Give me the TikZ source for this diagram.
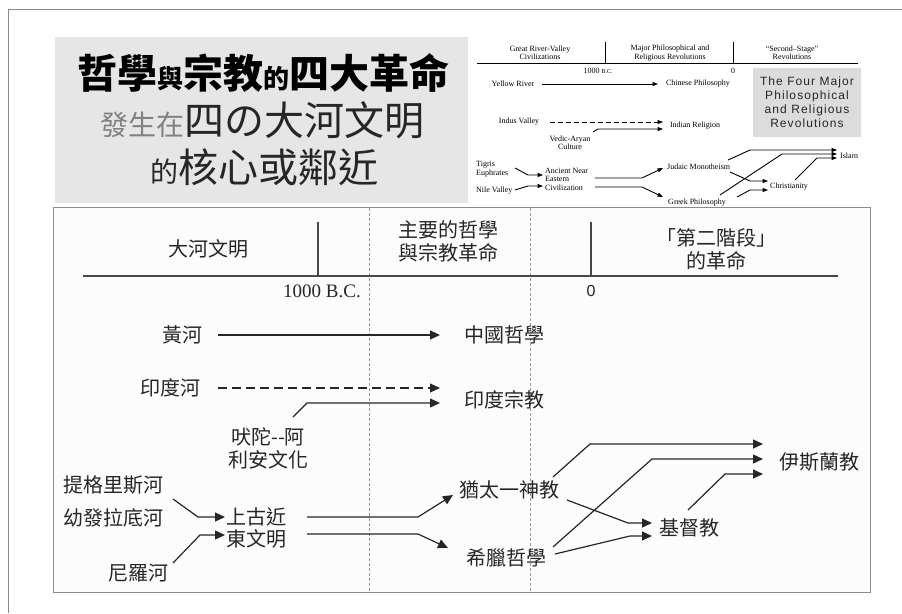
\documentclass[tikz,border=0pt]{standalone}
\usepackage{fontspec}
\setmainfont{Liberation Serif}
\newfontfamily\cjk{Noto Sans CJK TC}
\newfontfamily\arialf{Liberation Sans}
\newfontfamily\arialsp{Liberation Sans}[LetterSpace=9]
\usetikzlibrary{arrows.meta}
\definecolor{ink}{HTML}{262626}
\definecolor{frame}{HTML}{8A8A8A}
\definecolor{titlebg}{HTML}{E6E6E6}
\definecolor{boxbg}{HTML}{FCFCFC}
\definecolor{graybox}{HTML}{DCDCDC}
\begin{document}
\begin{tikzpicture}[x=1pt,y=-1pt,
  cn/.style={font=\cjk\fontsize{20}{23}\selectfont, text=ink, inner sep=0pt, align=center},
  en/.style={font=\fontsize{8}{8.5}\selectfont, inner sep=0pt, align=center},
  bigarr/.style={-{Triangle[length=10pt,width=9pt]}, line width=1.2pt, draw=ink},
  smlarr/.style={-{Triangle[length=5.5pt,width=4pt]}, line width=0.9pt, draw=black},
  rule/.style={line width=1.1pt, draw=ink!85},
  smlrule/.style={line width=0.9pt, draw=black},
  sep/.style={draw=gray!80, line width=0.8pt, dash pattern=on 3pt off 2pt}]
\useasboundingbox (0,0) rectangle (902,613);
\fill[white] (0,0) rectangle (902,613);
% outer frame
\draw[frame, line width=0.8pt] (8,613) -- (8,9) -- (902,9);

% ---------- title box ----------
\fill[titlebg] (55,37) rectangle (468,203);
\node[inner sep=0pt, text=black, font=\cjk\bfseries] (t1) at (263,73)
  {\fontsize{40}{40}\selectfont 哲學{\fontsize{26}{26}\selectfont 與}宗教{\fontsize{26}{26}\selectfont 的}四大革命};
\node[inner sep=0pt, font=\cjk] (t2) at (262,120)
  {{\color{gray}\fontsize{28}{28}\selectfont 發生在}{\color{ink}\fontsize{40}{40}\selectfont 四の大河文明}};
\node[inner sep=0pt, font=\cjk, text=ink] (t3) at (264,167)
  {{\fontsize{28}{28}\selectfont 的}{\fontsize{40}{40}\selectfont 核心或鄰近}};

% ---------- small English diagram ----------
\node[en] (hgrv) at (540,53) {Great River-Valley\\Civilizations};
\node[en] (hmaj) at (670,53) {Major Philosophical and\\Religious Revolutions};
\node[en] (hsec) at (792,53) {“Second–Stage”\\Revolutions};
\draw[smlrule] (477,63) -- (858,63);
\draw[smlrule] (605,42) -- (605,63);
\draw[smlrule] (733,42) -- (733,63);
\node[en] (ebc) at (598,71) {1000 {\fontsize{6}{6}\selectfont B.C.}};
\node[en] (ezero) at (733,71) {0};

\fill[graybox] (753,68) rectangle (861,137);
\node[inner sep=0pt, align=center, text=ink, font=\arialsp\fontsize{12}{14}\selectfont] (four) at (807,102)
  {The Four Major\\Philosophical\\and Religious\\Revolutions};

\node[en] (yellow) at (513,84) {Yellow River};
\node[en] (chinese) at (698,84) {Chinese Philosophy};
\node[en] (indus) at (519,122) {Indus Valley};
\node[en] (indian) at (695,126) {Indian Religion};
\node[en] (vedicE) at (570,143) {Vedic-Aryan\\Culture};
\node[en, anchor=west, align=left] (tigE) at (476,169) {Tigris\\Euphrates};
\node[en, anchor=west] (nileE) at (476,191) {Nile Valley};
\node[en, anchor=west, align=left] (aneE) at (545,179) {Ancient Near\\Eastern\\Civilization};
\node[en, anchor=west] (judE) at (667,167) {Judaic Monotheism};
\node[en] (greekE) at (697,203) {Greek Philosophy};
\node[en, anchor=west] (islamE) at (840,156) {Islam};
\node[en, anchor=west] (christE) at (770,187) {Christianity};

\draw[smlarr] ([shift={(29,0)}]yellow.center) -- ([shift={(-40,0)}]chinese.center);
\draw[smlarr, dash pattern=on 5pt off 3pt] ([shift={(31,0)}]indus.center) -- ([shift={(-32,-4)}]indian.center);
\draw[smlarr] ([shift={(23,-11)}]vedicE.center) -- (598,129) -- ([shift={(-32,3)}]indian.center);
\draw[smlarr] ([shift={(39,-1)}]tigE.west) -- (528,175) -- ([shift={(-2,-4)}]aneE.west);
\draw[smlarr] ([shift={(39,-1)}]nileE.west) -- (528,186) -- ([shift={(-2,7)}]aneE.west);
\draw[smlarr] ([shift={(50,-1)}]aneE.west) -- (642,178) -- ([shift={(-4,1)}]judE.west);
\draw[smlarr] ([shift={(50,8)}]aneE.west) -- (642,187) -- ([shift={(-34,-6)}]greekE.center);
\draw[smlarr] ([shift={(61,-7)}]judE.west) -- (750,150) -- ([shift={(-3,-6)}]islamE.west);
\draw[smlarr] ([shift={(23,-8)}]greekE.center) -- (782,154) -- ([shift={(-3,-2)}]islamE.west);
\draw[smlarr] ([shift={(25,-7)}]christE.west) -- (817,158) -- ([shift={(-3,2)}]islamE.west);
\draw[smlarr] ([shift={(63,5)}]judE.west) -- (750,181) -- ([shift={(-2,-6)}]christE.west);
\draw[smlarr] ([shift={(40,-6)}]greekE.center) -- (750,190) -- ([shift={(-2,3)}]christE.west);

% ---------- main box ----------
\draw[frame, fill=boxbg, line width=1pt] (53,207) rectangle (870,592);
\draw[sep] (369,208) -- (369,591);
\draw[sep] (530,208) -- (530,591);
\draw[rule] (83,276) -- (838,276);
\draw[rule] (318,222) -- (318,276);
\draw[rule] (591,222) -- (591,276);

\node[cn] (dahe) at (208,249) {大河文明};
\node[cn] (zhuyao) at (448,241) {主要的哲學\\與宗教革命};
\node[cn] (dier) at (716,249) {「第二階段」\\的革命};
\node[inner sep=0pt, text=ink, font=\fontsize{19}{19}\selectfont] (bc) at (322,291) {1000 B.C.};
\node[inner sep=0pt, text=ink, font=\arialf\fontsize{16}{16}\selectfont] (zero) at (591,291) {0};

\node[cn] (huang) at (182,335) {黃河};
\node[cn] (zg) at (504,335) {中國哲學};
\node[cn] (yinduhe) at (170,388) {印度河};
\node[cn] (yinduzj) at (504,400) {印度宗教};
\node[cn] (vedic) at (268,448) {吠陀-{}-阿\\利安文化};
\node[cn] (tigris) at (113,485) {提格里斯河};
\node[cn] (euph) at (113,518) {幼發拉底河};
\node[cn] (nile) at (138,573) {尼羅河};
\node[cn, font=\cjk\fontsize{20}{22}\selectfont] (ane) at (256,528) {上古近\\東文明};
\node[cn] (judaic) at (509,490) {猶太一神教};
\node[cn] (greek) at (506,558) {希臘哲學};
\node[cn] (islam) at (819,462) {伊斯蘭教};
\node[cn] (christ) at (689,528) {基督教};

\draw[bigarr] ([shift={(36,0)}]huang.center) -- ([shift={(-64,0)}]zg.center);
\draw[bigarr, dash pattern=on 9pt off 5pt] ([shift={(48,0)}]yinduhe.center) -- ([shift={(-64,-12)}]yinduzj.center);
\draw[bigarr] ([shift={(25,-31)}]vedic.center) -- (307,403) -- ([shift={(-64,3)}]yinduzj.center);
\draw[bigarr] ([shift={(60,14)}]tigris.center) -- (198,517) -- ([shift={(-31,-11)}]ane.center);
\draw[bigarr] ([shift={(35,-10)}]nile.center) -- (200,535) -- ([shift={(-31,7)}]ane.center);
\draw[bigarr] ([shift={(51,-11)}]ane.center) -- (418,517) -- ([shift={(-56,5)}]judaic.center);
\draw[bigarr] ([shift={(51,6)}]ane.center) -- (418,534) -- ([shift={(-58,-10)}]greek.center);
\draw[bigarr] ([shift={(44,-13)}]judaic.center) -- (590,444) -- ([shift={(-56,-18)}]islam.center);
\draw[bigarr] ([shift={(47,-11)}]greek.center) -- (652,459) -- ([shift={(-56,-3)}]islam.center);
\draw[bigarr] ([shift={(-1,-18)}]christ.center) -- (725,474) -- ([shift={(-56,12)}]islam.center);
\draw[bigarr] ([shift={(58,10)}]judaic.center) -- (628,523) -- ([shift={(-37,-5)}]christ.center);
\draw[bigarr] ([shift={(49,-4)}]greek.center) -- (630,536) -- ([shift={(-37,8)}]christ.center);
\end{tikzpicture}
\end{document}
